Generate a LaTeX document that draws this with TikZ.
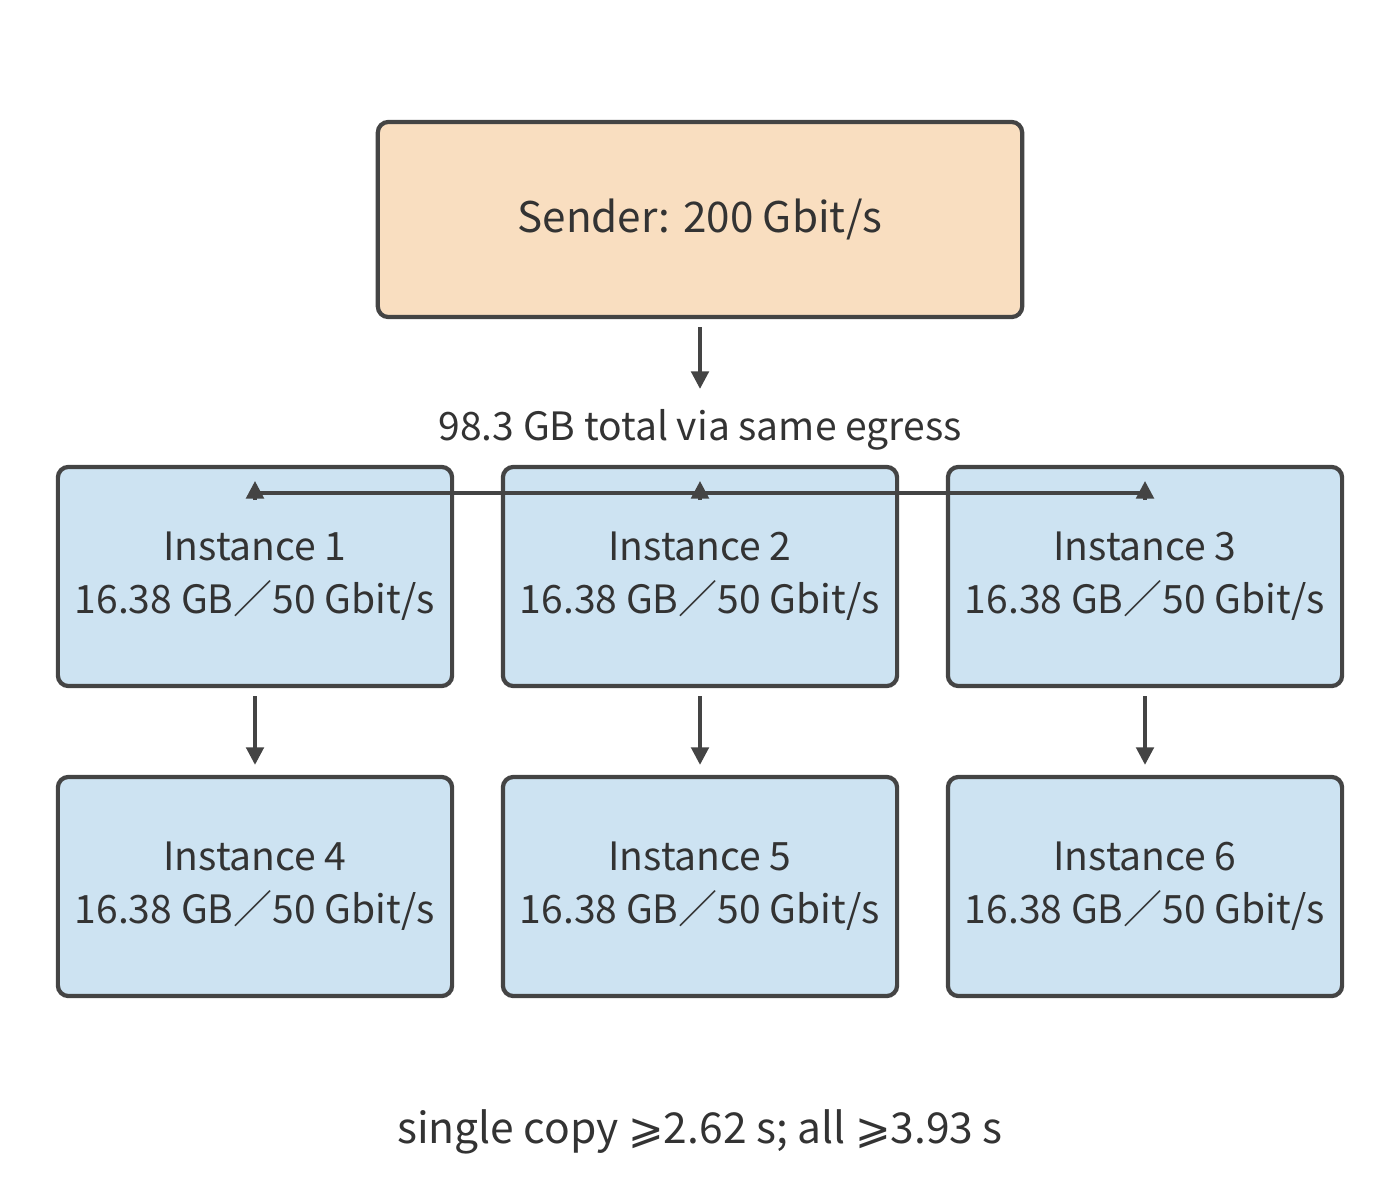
\documentclass[tikz,border=0pt]{standalone}
\usepackage{fontspec}
\setmainfont{Noto Sans CJK SC}
\newfontfamily\geqfont{DejaVu Sans}
\usepackage{tikz}
\usetikzlibrary{positioning, arrows.meta}
\definecolor{senderfill}{HTML}{F9DEC0}
\definecolor{instfill}{HTML}{CDE3F2}
\definecolor{edge}{HTML}{444444}
\definecolor{ink}{HTML}{333333}
\begin{document}
\begin{tikzpicture}[
        x=0.01cm, y=-0.01cm,
        box/.style={rectangle, draw=edge, line width=1.2pt, rounded corners=3pt, align=center, text=ink, inner sep=0pt, font=\fontsize{11.1}{15}\selectfont},
        inst/.style={box, fill=instfill, minimum width=3.94cm, minimum height=2.19cm},
        lbl/.style={text=ink, inner sep=0pt, font=\fontsize{11.1}{14}\selectfont},
        flow/.style={-{Triangle[length=5pt,width=5pt]}, draw=edge, line width=1pt}
    ]
        \useasboundingbox (0,0) rectangle (1400,1202);
        % Sender
        \node[box, fill=senderfill, minimum width=6.44cm, minimum height=1.95cm, font=\fontsize{12}{15}\selectfont] (sender) at (700,219.5) {Sender: 200 Gbit/s};
        \node[lbl] (egress) at (700,430) {98.3 GB total via same egress};
        % Instances
        \node[inst] (inst1) at (255,576.5) {Instance 1\\16.38 GB／50 Gbit/s};
        \node[inst] (inst2) at (700,576.5) {Instance 2\\16.38 GB／50 Gbit/s};
        \node[inst] (inst3) at (1145,576.5) {Instance 3\\16.38 GB／50 Gbit/s};
        \node[inst] (inst4) at (255,886.5) {Instance 4\\16.38 GB／50 Gbit/s};
        \node[inst] (inst5) at (700,886.5) {Instance 5\\16.38 GB／50 Gbit/s};
        \node[inst] (inst6) at (1145,886.5) {Instance 6\\16.38 GB／50 Gbit/s};
        \node[lbl, font=\fontsize{12.1}{15}\selectfont] (timing) at (700,1132) {single copy {\geqfont ⩾}2.62 s; all {\geqfont ⩾}3.93 s};
        % Connectors
        \draw[flow] ([yshift=-0.08cm]sender.south) -- ([yshift=0.2cm]egress.north);
        \coordinate (busl) at (255,493);
        \coordinate (busr) at (1145,493);
        \draw[draw=edge, line width=1pt] (busl) -- (busr);
        \foreach \i/\x in {1/255,2/700,3/1145} {
            \coordinate (busin\i) at (\x,500);
            \coordinate (bustip\i) at (\x,481);
            \draw[flow] (busin\i) -- (bustip\i);
        }
        \draw[flow] ([yshift=-0.08cm]inst1.south) -- ([yshift=0.1cm]inst4.north);
        \draw[flow] ([yshift=-0.08cm]inst2.south) -- ([yshift=0.1cm]inst5.north);
        \draw[flow] ([yshift=-0.08cm]inst3.south) -- ([yshift=0.1cm]inst6.north);
    \end{tikzpicture}
\end{document}
